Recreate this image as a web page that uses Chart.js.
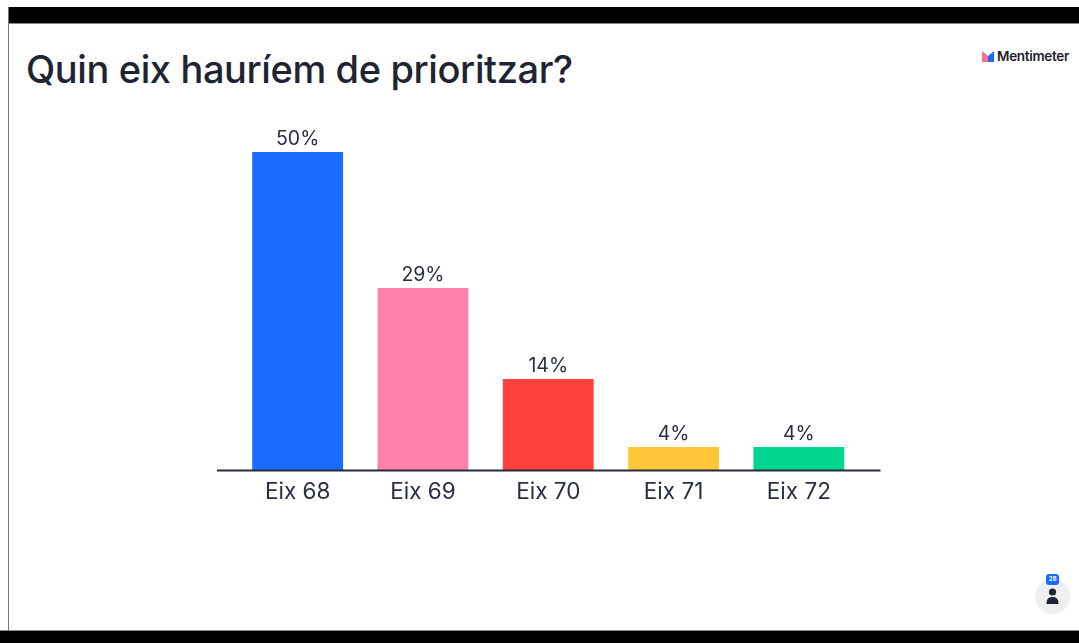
<!DOCTYPE html>
<html lang="ca">
<head>
<meta charset="utf-8">
<title>Quin eix hauríem de prioritzar?</title>
<script src="https://cdn.jsdelivr.net/npm/chart.js@4"></script>
<style>
    html, body { margin: 0; padding: 0; background: #fff; overflow: hidden; }
    #stage { position: relative; width: 1079px; height: 643px; overflow: hidden; background: #fff; font-family: Inter, sans-serif; }
    #stage div, #stage svg, #stage h1 { position: absolute; margin: 0; }
    .bar-top { left: 8px; right: 0; top: 7px; height: 16px; background: #000; border-bottom: 1px solid #8a8a8a; }
    .bar-bottom { left: 0; right: 0; top: 630px; bottom: 0; background: #000; border-top: 1px solid #8a8a8a; }
    .frame-left { left: 8px; top: 7px; width: 1px; height: 623px; background: #777; }
    h1 { left: 26px; top: 45px; font-size: 38px; line-height: 48px; font-weight: 500; letter-spacing: -0.38px; color: #1f2433; white-space: nowrap; }
    .brand { left: 997px; top: 48px; font-size: 13.5px; line-height: 17px; font-weight: 600; color: #1b1e2a; letter-spacing: -0.3px; }
    .avatar { left: 1035px; top: 579px; width: 35px; height: 35px; border-radius: 50%; background: #efefef; }
    .badge { left: 1046px; top: 574px; width: 13px; height: 11px; border-radius: 3px; background: #196cff; color: #fff; font-size: 6.5px; line-height: 11px; font-weight: 600; text-align: center; }
</style>
</head>
<body>
<div id="stage">
    <div class="bar-top"></div>
    <div class="bar-bottom"></div>
    <div class="frame-left"></div>
    <h1>Quin eix hauríem de prioritzar?</h1>
    <svg style="left:982px;top:51px" width="12" height="12" viewBox="0 0 12 12">
        <path d="M0 0 L6 5 L6 11 L0 11 Z" fill="#ff6f8f"/>
        <path d="M12 0 L12 11 L6 11 L6 5 Z" fill="#196cff"/>
    </svg>
    <div class="brand">Mentimeter</div>
    <div class="avatar"></div>
    <svg style="left:1045px;top:588px" width="15" height="17" viewBox="0 0 15 17">
        <circle cx="7.5" cy="4" r="3.6" fill="#1f2433"/>
        <path d="M1.5 16 C1.5 10.5 4 9 7.5 9 C11 9 13.5 10.5 13.5 16 Z" fill="#1f2433"/>
    </svg>
    <div class="badge">28</div>
    <canvas id="pollChart" width="1079" height="643" style="position:absolute;left:0;top:0"></canvas>
</div>

<script>
const categories = ['Eix 68', 'Eix 69', 'Eix 70', 'Eix 71', 'Eix 72'];
// 28 respostes: 14, 8, 4, 1, 1
const percentages = [50, 28.6, 14.3, 3.6, 3.6];
const barColors = ['#196cff', '#ff80ab', '#ff403d', '#ffc738', '#00d68f'];

const inkColor = '#2a2f3e';

// Linia base i percentatges damunt de cada barra
const pollLabels = {
    id: 'pollLabels',
    afterDatasetsDraw(chart) {
        const ctx = chart.ctx;
        const baseY = chart.scales.y.getPixelForValue(0);

        ctx.save();
        ctx.strokeStyle = '#272c3d';
        ctx.lineWidth = 2;
        ctx.beginPath();
        ctx.moveTo(chart.chartArea.left - 18, baseY + 0.5);
        ctx.lineTo(chart.chartArea.right + 19, baseY + 0.5);
        ctx.stroke();

        ctx.fillStyle = inkColor;
        ctx.font = '400 19.5px Inter, sans-serif';
        ctx.textAlign = 'center';
        ctx.textBaseline = 'bottom';
        chart.getDatasetMeta(0).data.forEach(function(bar, i) {
            ctx.fillText(Math.round(percentages[i]) + '%', bar.x, bar.y - 3);
        });
        ctx.restore();
    }
};

const ctx = document.getElementById('pollChart').getContext('2d');
new Chart(ctx, {
    type: 'bar',
    data: {
        labels: categories,
        datasets: [{
            data: percentages,
            backgroundColor: barColors,
            barPercentage: 0.725,
            categoryPercentage: 1
        }]
    },
    options: {
        responsive: false,
        animation: false,
        layout: {
            padding: { left: 235, right: 217.5, top: 152, bottom: 100 }
        },
        plugins: {
            legend: { display: false },
            tooltip: { enabled: false },
            title: { display: false }
        },
        scales: {
            x: {
                grid: { display: false },
                border: { display: false },
                ticks: {
                    color: inkColor,
                    padding: 1,
                    maxRotation: 0,
                    font: { family: 'Inter, sans-serif', size: 22.5, weight: '400' }
                },
                afterFit(axis) { axis.height = 73; }
            },
            y: {
                display: false,
                min: 0,
                max: 50
            }
        }
    },
    plugins: [pollLabels]
});
</script>
</body>
</html>
